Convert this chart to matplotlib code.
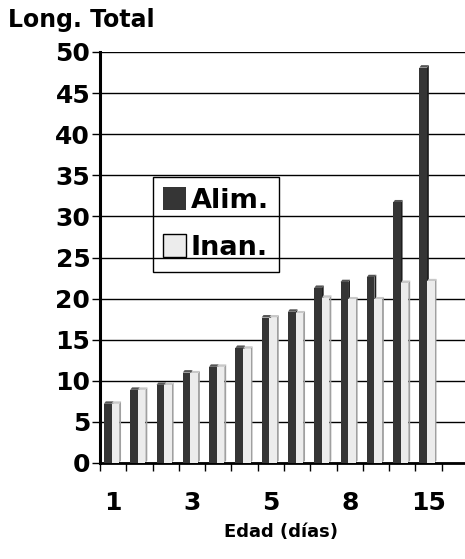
import matplotlib
matplotlib.use("Agg")
import matplotlib.pyplot as plt
from matplotlib.patches import Polygon, Rectangle

# datos (13 edades, ultima casilla vacia)
edades = ["1", "", "", "3", "", "", "5", "", "", "8", "", "", "15", ""]
alim = [7.2, 8.9, 9.5, 11.0, 11.7, 14.0, 17.7, 18.4, 21.3, 22.0, 22.6, 31.7, 48.1]
inan = [7.2, 8.9, 9.5, 10.9, 11.7, 13.9, 17.7, 18.2, 20.1, 19.9, 19.9, 21.9, 22.1]

plt.rcParams['font.family'] = ['DejaVu Sans']
plt.rcParams['font.weight'] = 'bold'

fig = plt.figure(figsize=(4.65, 5.59), dpi=100)
ax = fig.add_axes([100/465, 1-463/559, 368/465, 411/559])

w = 0.29
dx, dy = 0.07, 0.3
x = range(len(alim))

def barra3d(xc, h, cara, lado, tapa):
    ax.bar(xc, h, w, color=cara, zorder=3, linewidth=0)
    l, r = xc - w/2, xc + w/2
    ax.add_patch(Polygon([(r, 0), (r+dx, dy), (r+dx, h+dy), (r, h)],
                         closed=True, facecolor=lado, edgecolor='none', zorder=2))
    ax.add_patch(Polygon([(l, h), (l+dx, h+dy), (r+dx, h+dy), (r, h)],
                         closed=True, facecolor=tapa, edgecolor='none', zorder=2))

for i in x:
    barra3d(i - 0.205, alim[i], '#353535', '#1e1e1e', '#555555')
    barra3d(i + 0.085, inan[i], '#ececec', '#a0a0a0', '#c8c8c8')

ax.set_xlim(-0.5, len(edades) - 0.5)
ax.set_ylim(0, 50)
ax.set_yticks(range(0, 51, 5))
ax.yaxis.grid(True, color='black', linewidth=1.0, zorder=0)
ax.set_axisbelow(True)

ax.set_xticks([i + 0.5 for i in range(-1, len(edades))], minor=False)
ax.set_xticklabels([])
ax.set_xticks(range(len(edades)), minor=True)
ax.set_xticklabels(edades, minor=True)
ax.tick_params(axis='x', which='major', direction='out', length=6, width=1, color='black')
ax.tick_params(axis='x', which='minor', length=0, labelsize=18, pad=20)
ax.tick_params(axis='y', direction='out', length=6, width=1, labelsize=18, pad=1)

for s in ['top', 'right']:
    ax.spines[s].set_visible(False)
ax.spines['left'].set_linewidth(2.2)
ax.spines['bottom'].set_linewidth(2)

fig.text(8/465, 1-20/559, "Long. Total", fontsize=17, fontweight='bold', va='center', ha='left')
fig.text(281/465, 1-532/559, "Edad (días)", fontsize=13, fontweight='bold', va='center', ha='center')

h1 = Rectangle((0, 0), 1, 1, facecolor='#353535', edgecolor='none')
h2 = Rectangle((0, 0), 1, 1, facecolor='#ececec', edgecolor='black', linewidth=1)
leg = ax.legend([h1, h2], ["Alim.", "Inan."], loc='upper left',
                bbox_to_anchor=(0.143, 0.697), prop={'size': 19.5, 'weight': 'bold'},
                handlelength=0.85, handleheight=0.9, handletextpad=0.15,
                labelspacing=0.75, borderpad=0.4, borderaxespad=0,
                fancybox=False, framealpha=1, facecolor='none', edgecolor='black')
leg.get_frame().set_linewidth(1)
leg.set_zorder(5)

fig.savefig("out.png", dpi=100)
